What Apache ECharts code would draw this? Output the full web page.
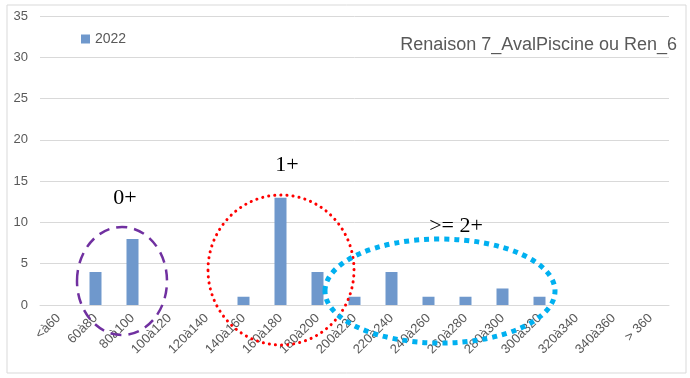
<!DOCTYPE html>
<html>
<head>
<meta charset="utf-8">
<script src="https://cdn.jsdelivr.net/npm/echarts@6/dist/echarts.min.js"></script>
<style>
  html, body { margin: 0; padding: 0; background: #ffffff; }
  #chart { width: 690px; height: 378px; }
</style>
</head>
<body>
<div id="chart"></div>
<script>
// Size classes (mm) and fish counts for 2022
const sizeClasses = ['<à60', '60à80', '80à100', '100à120', '120à140', '140à160', '160à180',
  '180à200', '200à220', '220à240', '240à260', '260à280', '280à300', '300à320',
  '320à340', '340à360', '> 360'];
const counts2022 = [0, 4, 8, 0, 0, 1, 13, 4, 1, 4, 1, 1, 2, 1, 0, 0, 0];
const seriesName = '2022';
const titleText = 'Renaison 7_AvalPiscine ou Ren_6';
const yTicks = { min: 0, max: 35, interval: 5 };

const axisFont = 'Liberation Sans';
const gray = '#595959';

const chart = echarts.init(document.getElementById('chart'));
chart.setOption({
  animation: false,
  backgroundColor: '#ffffff',
  title: {
    text: titleText,
    right: 8, top: 31,
    textStyle: { fontFamily: axisFont, fontSize: 18, fontWeight: 'normal', color: gray }
  },
  legend: {
    data: [seriesName],
    left: 76, top: 27,
    itemWidth: 9, itemHeight: 9, itemGap: 4,
    icon: 'rect',
    textStyle: { fontFamily: axisFont, fontSize: 14, color: gray }
  },
  grid: { left: 40, right: 21, top: 16, bottom: 73 },
  xAxis: {
    type: 'category',
    data: sizeClasses,
    axisLine: { lineStyle: { color: '#d9d9d9' } },
    axisTick: { show: false },
    axisLabel: { rotate: 45, interval: 0, fontFamily: axisFont, fontSize: 13, color: gray, margin: 11 }
  },
  yAxis: {
    type: 'value',
    min: yTicks.min, max: yTicks.max, interval: yTicks.interval,
    axisLine: { show: false },
    axisTick: { show: false },
    splitLine: { lineStyle: { color: '#d9d9d9' } },
    axisLabel: { fontFamily: axisFont, fontSize: 13, color: gray, margin: 12 }
  },
  series: [{
    name: seriesName,
    type: 'bar',
    data: counts2022,
    barWidth: 12,
    itemStyle: { color: '#6f98cc' }
  }],
  graphic: [
    { type: 'rect', shape: { x: 7, y: 5, width: 679, height: 368 },
      style: { fill: 'none', stroke: '#d9d9d9', lineWidth: 1 }, z: -1 },
    // age-group outlines
    { type: 'ellipse', shape: { cx: 122, cy: 281, rx: 45, ry: 54 },
      style: { fill: 'none', stroke: '#7030a0', lineWidth: 2.5, lineDash: [11, 7] }, z: 10 },
    { type: 'ellipse', shape: { cx: 281, cy: 270, rx: 73, ry: 75 },
      style: { fill: 'none', stroke: '#ff0000', lineWidth: 3, lineDash: [0.1, 6], lineCap: 'round' }, z: 10 },
    { type: 'ellipse', shape: { cx: 440, cy: 291, rx: 115, ry: 52 },
      style: { fill: 'none', stroke: '#00b0f0', lineWidth: 5, lineDash: [5, 5] }, z: 10 },
    // age-group labels
    { type: 'text', x: 125, y: 198, z: 11,
      style: { text: '0+', fontFamily: 'Liberation Serif', fontSize: 22, fill: '#000', align: 'center', verticalAlign: 'middle' } },
    { type: 'text', x: 287, y: 165, z: 11,
      style: { text: '1+', fontFamily: 'Liberation Serif', fontSize: 22, fill: '#000', align: 'center', verticalAlign: 'middle' } },
    { type: 'text', x: 456, y: 226, z: 11,
      style: { text: '>= 2+', fontFamily: 'Liberation Serif', fontSize: 22, fill: '#000', align: 'center', verticalAlign: 'middle' } }
  ]
});
</script>
</body>
</html>
